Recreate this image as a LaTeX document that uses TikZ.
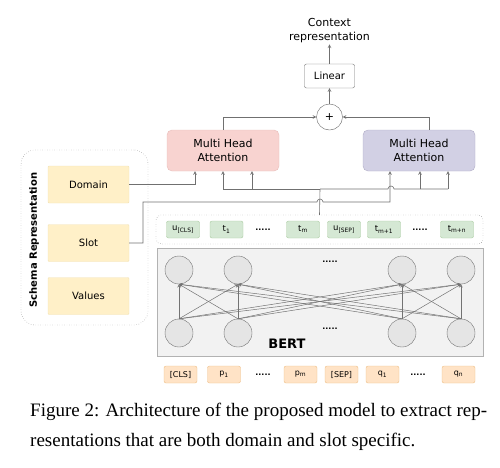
\documentclass[tikz,border=0pt]{standalone}
\usepackage{fontspec}
\setmainfont{Liberation Serif}
\newfontfamily\dvsans{DejaVu Sans}
\usepackage{xcolor}
\usetikzlibrary{shapes.geometric, arrows, calc}
\definecolor{attnred}{HTML}{F8D3D0}
\definecolor{attnreddark}{HTML}{D9908A}
\definecolor{attnpurple}{HTML}{D2D0E4}
\definecolor{attnpurpledark}{HTML}{8E8AAE}
\definecolor{schemafill}{HTML}{FFF0C8}
\definecolor{schemadraw}{HTML}{E8CF86}
\definecolor{tokgreen}{HTML}{D5E8D4}
\definecolor{tokgreendark}{HTML}{A9CBA0}
\definecolor{tokorange}{HTML}{FFE3C6}
\definecolor{tokorangedark}{HTML}{EDBE86}
\definecolor{wiregray}{HTML}{707070}

\begin{document}
\begin{tikzpicture}[
    x=1pt, y=-1pt,
    box/.style={rectangle, rounded corners=2pt, text centered, inner sep=0pt, font=\dvsans\fontsize{10}{12}\selectfont},
    attn/.style={box, rounded corners=5pt, minimum width=112pt, minimum height=41pt, align=center, font=\dvsans\fontsize{11}{14}\selectfont},
    schemabox/.style={box, rounded corners=1pt, fill=schemafill, draw=schemadraw!60, minimum width=81pt, minimum height=37pt},
    tokin/.style={box, fill=tokgreen, draw=tokgreendark, minimum width=33pt, minimum height=17pt, font=\dvsans\fontsize{8.5}{10}\selectfont},
    tokout/.style={box, fill=tokorange, draw=tokorangedark, minimum width=33pt, minimum height=17pt, font=\dvsans\fontsize{8}{10}\selectfont},
    unit/.style={circle, minimum size=28pt, inner sep=0pt, fill=black!10, draw=black!55, thin},
    dots/.style={font=\dvsans\bfseries\fontsize{8}{10}\selectfont, inner sep=0pt},
    wire/.style={draw=wiregray, line width=0.6pt},
    arrow/.style={wire,->,>=stealth}
  ]
    \useasboundingbox (0,0) rectangle (500,467);

    % Schema representation
    \node[box, draw=black!60, dotted, rounded corners=14pt, minimum width=127pt, minimum height=175pt] (schema) at (84.5,237.5) {};
    \node[rotate=90, font=\dvsans\bfseries\fontsize{10}{12}\selectfont] (schemalbl) at (34,240) {Schema Representation};
    \node[schemabox] (domain) at (88.5,184.5) {Domain};
    \node[schemabox] (slot) at (88.5,243) {Slot};
    \node[schemabox] (values) at (88.5,296) {Values};

    % Attention, sum and output
    \node[attn, fill=attnred, draw=attnreddark!60] (mhaL) at (223,150.5) {Multi Head\\Attention};
    \node[attn, fill=attnpurple, draw=attnpurpledark!70] (mhaR) at (419,150.5) {Multi Head\\Attention};
    \node[circle, draw=black!60, fill=white, minimum size=26pt, inner sep=0pt, font=\dvsans\fontsize{11}{12}\selectfont] (plus) at (329.5,117) {+};
    \node[box, draw=black!55, fill=white, minimum width=50pt, minimum height=24pt] (linear) at (329.5,76) {Linear};
    \node[align=center, inner sep=1pt, font=\dvsans\fontsize{11}{14}\selectfont] (ctx) at (329.5,31) {Context\\representation};

    % Contextual tokens
    \node[box, draw=black!60, dotted, rounded corners=5pt, minimum width=327pt, minimum height=29pt] (tokbox) at (319.5,229.5) {};
    \node[tokin] (ucls) at (183,229.5) {u\textsubscript{[CLS]}};
    \node[tokin] (t1) at (226.5,229.5) {t\textsubscript{1}};
    \node[dots] (tdotsA) at (263,230) {.....};
    \node[tokin] (tm) at (303,229.5) {t\textsubscript{m}};
    \node[tokin] (usep) at (344,229.5) {u\textsubscript{[SEP]}};
    \node[tokin] (tm1) at (384,229.5) {t\textsubscript{m+1}};
    \node[dots] (tdotsB) at (420,230) {.....};
    \node[tokin] (tmn) at (457,229.5) {t\textsubscript{m+n}};

    % BERT
    \node[rectangle, fill=black!5, draw=black!30, minimum width=326pt, minimum height=108pt] (bert) at (320,302) {};
    \foreach \n/\xx in {1/179, 2/238, 3/402, 4/461} {
      \node[unit] (top\n) at (\xx,270) {};
      \node[unit] (bot\n) at (\xx,333) {};
    }
    \foreach \i in {1,...,4} {
      \foreach \j in {1,...,4} {
        \draw[->, >=stealth, draw=black!55, line width=0.5pt] (bot\i.north) -- (top\j.south);
      }
    }
    \node[dots] (bdotsA) at (330,262) {.....};
    \node[dots] (bdotsB) at (330,329) {.....};
    \node[font=\dvsans\bfseries\fontsize{13}{15}\selectfont] (bertlbl) at (287,344) {BERT};

    % Input tokens
    \node[tokout] (cls) at (180.5,374.5) {[CLS]};
    \node[tokout] (p1) at (224,374.5) {p\textsubscript{1}};
    \node[dots] (idotsA) at (263,375) {.....};
    \node[tokout] (pm) at (300.5,374.5) {p\textsubscript{m}};
    \node[tokout] (sep) at (341.5,374.5) {[SEP]};
    \node[tokout] (q1) at (382.5,374.5) {q\textsubscript{1}};
    \node[dots] (idotsB) at (418,375) {.....};
    \node[tokout] (qn) at (458.5,374.5) {q\textsubscript{n}};

    % Connectors
    \coordinate (bus) at (320,189);
    \draw[wire] (tokbox.north) -- (bus);
    \draw[arrow] (bus) -| (mhaL.south);
    \draw[arrow] (bus) -| ([xshift=29pt]mhaL.south);
    \draw[wire] (bus) -- (388,189) arc (180:360:3) -- (448,189);
    \draw[arrow] (420,189) -- ([xshift=1pt]mhaR.south);
    \draw[arrow] (448,189) -- ([xshift=29pt]mhaR.south);
    \draw[arrow] (domain.east) -| ([xshift=-28pt]mhaL.south);
    \draw[arrow] (slot.east) -| (143,202) -- (317,202) arc (180:360:3) -- (390,202) -- ([xshift=-29pt]mhaR.south);
    \draw[arrow] (mhaL.north) |- (plus.west);
    \draw[arrow] ([xshift=10pt]mhaR.north) |- (plus.east);
    \draw[arrow] (plus) -- (linear);
    \draw[arrow] (linear) -- (ctx);

    % Caption
    \node[anchor=west, align=left, inner sep=0pt, font=\fontsize{19}{30}\selectfont] (caption) at (30,427)
      {Figure 2: Architecture of the proposed model to extract rep-\\resentations that are both domain and slot specific.};
\end{tikzpicture}
\end{document}
